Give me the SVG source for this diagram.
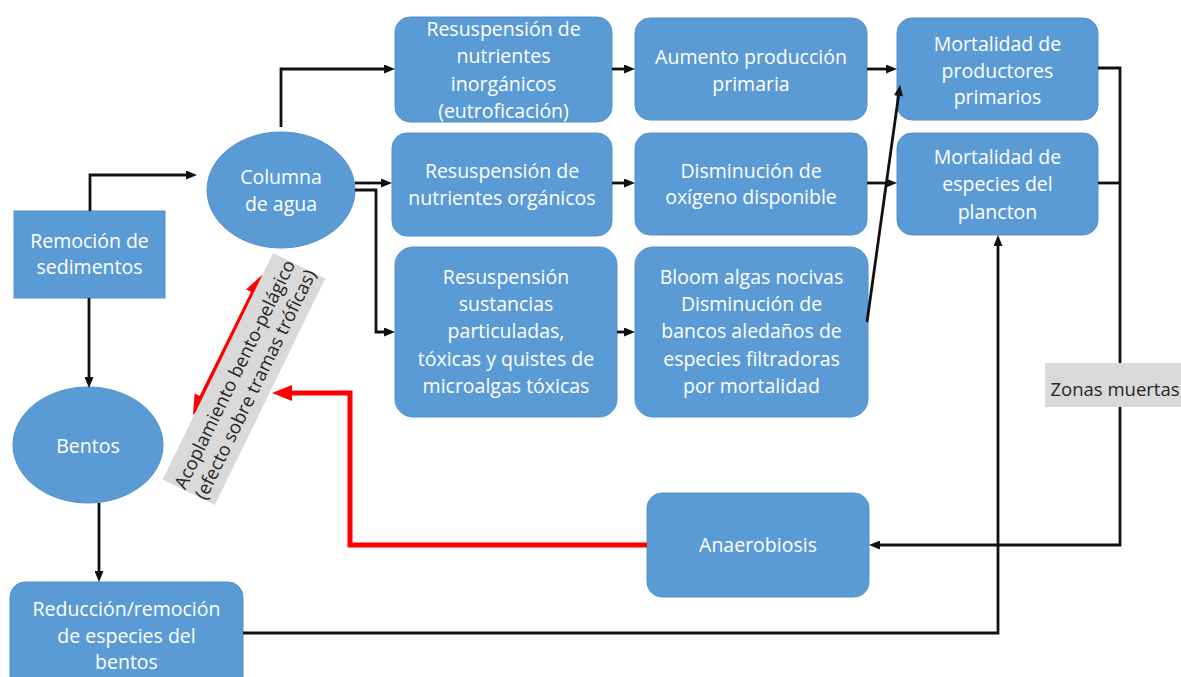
<svg xmlns="http://www.w3.org/2000/svg" width="1181" height="677" viewBox="0 0 1181 677">
<defs>
<style>
.box{fill:#5B9BD5;stroke:#5090CC;stroke-width:1}
.t{font-family:'Open Sans','Liberation Sans',sans-serif;font-size:19.5px;fill:#FFFFFF;text-anchor:middle}
.lbl{font-family:'Open Sans','Liberation Sans',sans-serif;font-size:18.5px;fill:#262626;text-anchor:middle}
.gray{fill:#D9D9D9}
.conn{fill:none;stroke:#111111;stroke-width:2.8}
.red{fill:none;stroke:#FF0000;stroke-width:5}
</style>
<marker id="ah" markerUnits="userSpaceOnUse" markerWidth="11" markerHeight="9" refX="5" refY="4.5" orient="auto">
<path d="M0,0 L11,4.5 L0,9 z" fill="#111111"/>
</marker>
<marker id="rh" markerUnits="userSpaceOnUse" markerWidth="20" markerHeight="16" refX="7" refY="8" orient="auto-start-reverse">
<path d="M0,0 L20,8 L0,16 z" fill="#FF0000"/>
</marker>
</defs>
<rect width="1181" height="677" fill="#FFFFFF"/>

<g id="remocion">
<rect class="box" x="14" y="211" width="151" height="87"/>
<text class="t"><tspan x="89.5" y="248">Remoción de</tspan><tspan x="89.5" y="274">sedimentos</tspan></text>
</g>

<g id="columna">
<ellipse class="box" cx="281" cy="190" rx="74" ry="58"/>
<text class="t"><tspan x="281" y="184">Columna</tspan><tspan x="281" y="211">de agua</tspan></text>
</g>

<g id="bentos">
<ellipse class="box" cx="88" cy="445" rx="75" ry="58"/>
<text class="t" x="88" y="453">Bentos</text>
</g>

<g id="reduccion">
<rect class="box" x="10" y="582" width="233" height="110" rx="15"/>
<text class="t"><tspan x="126.5" y="616">Reducción/remoción</tspan><tspan x="126.5" y="643">de especies del</tspan><tspan x="126.5" y="669">bentos</tspan></text>
</g>

<g id="res-inorganicos">
<rect class="box" x="395" y="17" width="217" height="105" rx="15"/>
<text class="t"><tspan x="503.5" y="36">Resuspensión de</tspan><tspan x="503.5" y="63">nutrientes</tspan><tspan x="503.5" y="91">inorgánicos</tspan><tspan x="503.5" y="118">(eutroficación)</tspan></text>
</g>

<g id="aumento">
<rect class="box" x="635" y="18" width="232" height="102" rx="15"/>
<text class="t"><tspan x="751" y="64">Aumento producción</tspan><tspan x="751" y="91">primaria</tspan></text>
</g>

<g id="res-organicos">
<rect class="box" x="392" y="133" width="220" height="103" rx="15"/>
<text class="t"><tspan x="502" y="178">Resuspensión de</tspan><tspan x="502" y="205">nutrientes orgánicos</tspan></text>
</g>

<g id="disminucion-oxigeno">
<rect class="box" x="635" y="133" width="232" height="102" rx="15"/>
<text class="t"><tspan x="751" y="178">Disminución de</tspan><tspan x="751" y="204">oxígeno disponible</tspan></text>
</g>

<g id="res-sustancias">
<rect class="box" x="395" y="247" width="222" height="170" rx="18"/>
<text class="t"><tspan x="506" y="284">Resuspensión</tspan><tspan x="506" y="311">sustancias</tspan><tspan x="506" y="338">particuladas,</tspan><tspan x="506" y="366">tóxicas y quistes de</tspan><tspan x="506" y="393">microalgas tóxicas</tspan></text>
</g>

<g id="bloom">
<rect class="box" x="635" y="247" width="233" height="170" rx="18"/>
<text class="t"><tspan x="751.5" y="284">Bloom algas nocivas</tspan><tspan x="751.5" y="311">Disminución de</tspan><tspan x="751.5" y="338">bancos aledaños de</tspan><tspan x="751.5" y="366">especies filtradoras</tspan><tspan x="751.5" y="393">por mortalidad</tspan></text>
</g>

<g id="mortalidad-productores">
<rect class="box" x="897" y="18" width="201" height="102" rx="15"/>
<text class="t"><tspan x="997.5" y="51">Mortalidad de</tspan><tspan x="997.5" y="78">productores</tspan><tspan x="997.5" y="104">primarios</tspan></text>
</g>

<g id="mortalidad-plancton">
<rect class="box" x="897" y="133" width="201" height="102" rx="15"/>
<text class="t"><tspan x="997.5" y="164">Mortalidad de</tspan><tspan x="997.5" y="191">especies del</tspan><tspan x="997.5" y="219">plancton</tspan></text>
</g>

<g id="anaerobiosis">
<rect class="box" x="647" y="493" width="222" height="104" rx="15"/>
<text class="t" x="758" y="552">Anaerobiosis</text>
</g>

<g id="connectors">
<path class="conn" d="M90,211 V175 H191" marker-end="url(#ah)"/>
<path class="conn" d="M89,298 V382" marker-end="url(#ah)"/>
<path class="conn" d="M99,503 V576" marker-end="url(#ah)"/>
<path class="conn" d="M281,127 V69 H389" marker-end="url(#ah)"/>
<path class="conn" d="M355,183 H386" marker-end="url(#ah)"/>
<path class="conn" d="M355,190 H376 V332 H389" marker-end="url(#ah)"/>
<path class="conn" d="M612,69 H629" marker-end="url(#ah)"/>
<path class="conn" d="M612,183 H629" marker-end="url(#ah)"/>
<path class="conn" d="M617,332 H629" marker-end="url(#ah)"/>
<path class="conn" d="M867,69 H891" marker-end="url(#ah)"/>
<path class="conn" d="M867,183 H891" marker-end="url(#ah)"/>
<path class="conn" d="M867,322 L899.2,91" marker-end="url(#ah)"/>
<path class="conn" d="M1098,68 H1120 V545 H875" marker-end="url(#ah)"/>
<path class="conn" d="M1098,183 H1120"/>
<path class="conn" d="M243,633 H998 V241" marker-end="url(#ah)"/>
<path class="red" d="M647,545 H350 V393 H285" marker-end="url(#rh)"/>
<path class="red" d="M198.7,403.3 L256.3,286.7" marker-start="url(#rh)" marker-end="url(#rh)"/>
</g>

<g id="acoplamiento" transform="translate(244,379) rotate(-64)">
<rect class="gray" x="-126" y="-29" width="252" height="58"/>
<text class="lbl"><tspan x="0" y="-4">Acoplamiento bento-pelágico</tspan><tspan x="0" y="19">(efecto sobre tramas tróficas)</tspan></text>
</g>

<g id="zonas-muertas">
<rect class="gray" x="1045" y="363" width="140" height="44"/>
<text class="lbl" x="1115" y="396">Zonas muertas</text>
</g>
</svg>
